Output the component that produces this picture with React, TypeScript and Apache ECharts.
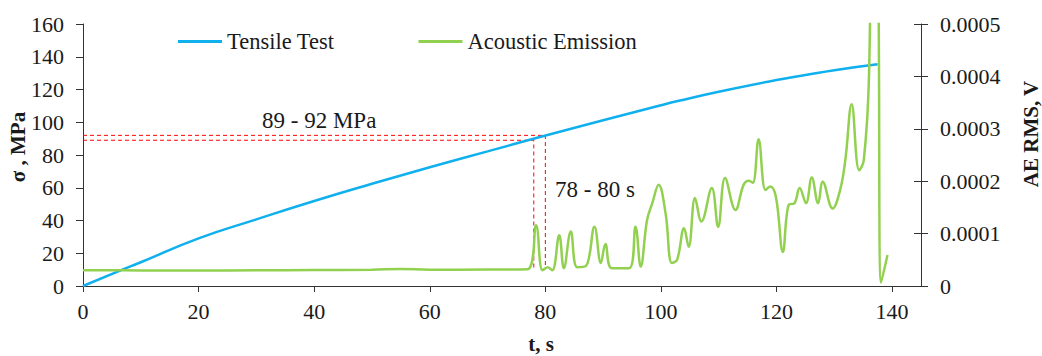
import React, { useEffect, useRef } from "react";
import * as echarts from "echarts";

// Tensile stress curve: [time s, stress MPa]
const tensileTest: [number, number][] = [
  [0, 0], [6.4, 9.4], [10, 14.5], [20, 29.1], [30, 40.7], [40, 51.9], [50, 62.4],
  [60, 72.5], [70, 82.2], [78.9, 90.8], [90, 101.2], [100, 110.4], [103.1, 113.1],
  [110, 118.6], [120, 125.8], [125, 128.8], [130, 131.8], [137.5, 135.4],
];

// Acoustic emission RMS: [time s, V]
const acousticEmission: [number, number][] = [
  [0, 0.300e-4], [10, 0.298e-4], [20, 0.295e-4], [30, 0.300e-4], [40, 0.305e-4],
  [50, 0.310e-4], [55, 0.325e-4], [60, 0.310e-4], [70, 0.315e-4], [76.9, 0.320e-4],
  [78.4, 1.16e-4], [79.5, 0.30e-4], [80.4, 0.36e-4], [81.2, 0.30e-4], [82.4, 0.97e-4],
  [83.2, 0.34e-4], [84.4, 1.04e-4], [85.5, 0.36e-4], [87.0, 0.38e-4], [88.5, 1.13e-4],
  [89.6, 0.44e-4], [90.4, 0.80e-4], [91.5, 0.34e-4], [94.5, 0.34e-4], [95.6, 1.13e-4],
  [96.5, 0.37e-4], [97.6, 1.26e-4], [98.5, 1.58e-4], [99.6, 1.93e-4], [100.8, 1.39e-4],
  [101.9, 0.44e-4], [102.8, 0.50e-4], [104.0, 1.10e-4], [104.8, 0.75e-4], [105.9, 1.68e-4],
  [107.0, 1.23e-4], [108.8, 1.87e-4], [109.9, 1.13e-4], [111.1, 2.06e-4], [112.9, 1.45e-4],
  [114.3, 1.93e-4], [115.2, 2.01e-4], [115.9, 1.97e-4], [116.9, 2.80e-4], [118.1, 1.83e-4],
  [118.9, 1.90e-4], [119.9, 1.70e-4], [121.1, 0.65e-4], [122.1, 1.55e-4], [123.1, 1.58e-4],
  [124.0, 1.87e-4], [125.1, 1.58e-4], [126.1, 2.07e-4], [127.2, 1.58e-4], [128.0, 1.99e-4],
  [129.7, 1.48e-4], [131.0, 1.83e-4], [131.9, 2.40e-4], [133.0, 3.47e-4], [134.3, 2.21e-4],
  [135.1, 2.40e-4], [136.0, 4.0e-4], [136.8, 10e-4], [137.6, 6e-4], [138.1, 0.06e-4],
  [139.2, 0.59e-4],
];

// Marked range: 78 - 80 s, 89 - 92 MPa
const markTimes = [78, 80];
const markStress = [89, 92];
const aeOnsetLevel = 0.32e-4; // AE level before the burst starts

const xTicks = [0, 20, 40, 60, 80, 100, 120, 140];
const stressMax = 160;
const aeMax = 0.0005;

const FONT = "Liberation Serif";
const TEXT = "#1a1a1a";
const AXIS = "#333333";
const BLUE = "#10b0ee";
const GREEN = "#92d050";

export default function App() {
  const ref = useRef<HTMLDivElement>(null);

  useEffect(() => {
    if (!ref.current) return;
    const chart = echarts.init(ref.current, undefined, { renderer: "svg" });
    const onsetStress = (aeOnsetLevel * stressMax) / aeMax;

    const guide = (t: number, s: number, name: string) => ({
      name,
      type: "line",
      xAxisIndex: 0,
      yAxisIndex: 0,
      data: [[0, s], [t, s], [t, onsetStress]],
      symbol: "none",
      silent: true,
      lineStyle: { color: "#ff0000", width: 1, type: [4, 3] },
      z: 1,
    });

    const label = { fontFamily: FONT, fontSize: 22, color: TEXT };
    const title = (text: string, x: number, y: number, rotation = 0) => ({
      type: "text",
      x,
      y,
      rotation,
      style: {
        text,
        fontFamily: FONT,
        fontWeight: "bold",
        fontSize: 21,
        fill: TEXT,
        textAlign: "center",
        textVerticalAlign: "middle",
      },
    });
    const note = (text: string, x: number, y: number) => ({
      type: "text",
      x,
      y,
      style: {
        text,
        fontFamily: FONT,
        fontSize: 23,
        fill: TEXT,
        textAlign: "left",
        textVerticalAlign: "middle",
      },
    });

    chart.setOption({
      animation: false,
      textStyle: { fontFamily: FONT, color: TEXT },
      grid: { left: 83, right: 121, top: 24, bottom: 70 },
      legend: {
        data: [
          { name: "Tensile Test", icon: "rect", itemStyle: { color: BLUE } },
          { name: "Acoustic Emission", icon: "rect", itemStyle: { color: GREEN } },
        ],
        left: 173,
        top: 25,
        itemWidth: 44,
        itemHeight: 3,
        itemGap: 84,
        textStyle: { fontFamily: FONT, fontSize: 22.5, color: TEXT },
      },
      xAxis: {
        type: "value",
        min: 0,
        max: 145,
        interval: 20,
        splitLine: { show: false },
        axisLine: { lineStyle: { color: AXIS, width: 1 } },
        axisTick: { length: 6, lineStyle: { color: AXIS }, customValues: xTicks },
        axisLabel: { ...label, margin: 14, customValues: xTicks },
      },
      yAxis: [
        {
          type: "value",
          position: "left",
          min: 0,
          max: stressMax,
          interval: 20,
          splitLine: { show: false },
          axisLine: { show: true, lineStyle: { color: AXIS, width: 1 } },
          axisTick: { show: true, length: 7, lineStyle: { color: AXIS } },
          axisLabel: { ...label, margin: 19 },
        },
        {
          type: "value",
          position: "right",
          min: 0,
          max: aeMax,
          interval: 0.0001,
          splitLine: { show: false },
          axisLine: { show: true, lineStyle: { color: AXIS, width: 1 } },
          axisTick: { show: true, length: 7, lineStyle: { color: AXIS } },
          axisLabel: {
            ...label,
            margin: 19,
            formatter: (v: number) => (v === 0 ? "0" : v.toFixed(4)),
          },
        },
        {
          // inner half of the crossing ticks on the AE axis
          type: "value",
          position: "right",
          min: 0,
          max: aeMax,
          interval: 0.0001,
          splitLine: { show: false },
          axisLine: { show: false },
          axisTick: { show: true, inside: true, length: 7, lineStyle: { color: AXIS } },
          axisLabel: { show: false },
        },
      ],
      series: [
        guide(markTimes[1], markStress[1], "guide-high"),
        guide(markTimes[0], markStress[0], "guide-low"),
        {
          name: "Tensile Test",
          type: "line",
          yAxisIndex: 0,
          data: tensileTest,
          smooth: true,
          symbol: "none",
          lineStyle: { color: BLUE, width: 2.5 },
          itemStyle: { color: BLUE },
          z: 2,
        },
        {
          name: "Acoustic Emission",
          type: "line",
          yAxisIndex: 1,
          data: acousticEmission,
          smooth: 0.4,
          symbol: "none",
          clip: true,
          lineStyle: { color: GREEN, width: 2.5 },
          itemStyle: { color: GREEN },
          z: 3,
        },
      ],
      graphic: [
        title("t, s", 541, 344),
        title("σ , MPa", 18, 147, Math.PI / 2),
        title("AE RMS, V", 1031, 134, Math.PI / 2),
        note("89 - 92 MPa", 262, 120),
        note("78 - 80 s", 555, 189),
      ],
    });

    return () => chart.dispose();
  }, []);

  return (
    <div
      ref={ref}
      style={{ position: "fixed", left: 0, top: 0, width: 1042, height: 356, background: "#fff" }}
    />
  );
}
